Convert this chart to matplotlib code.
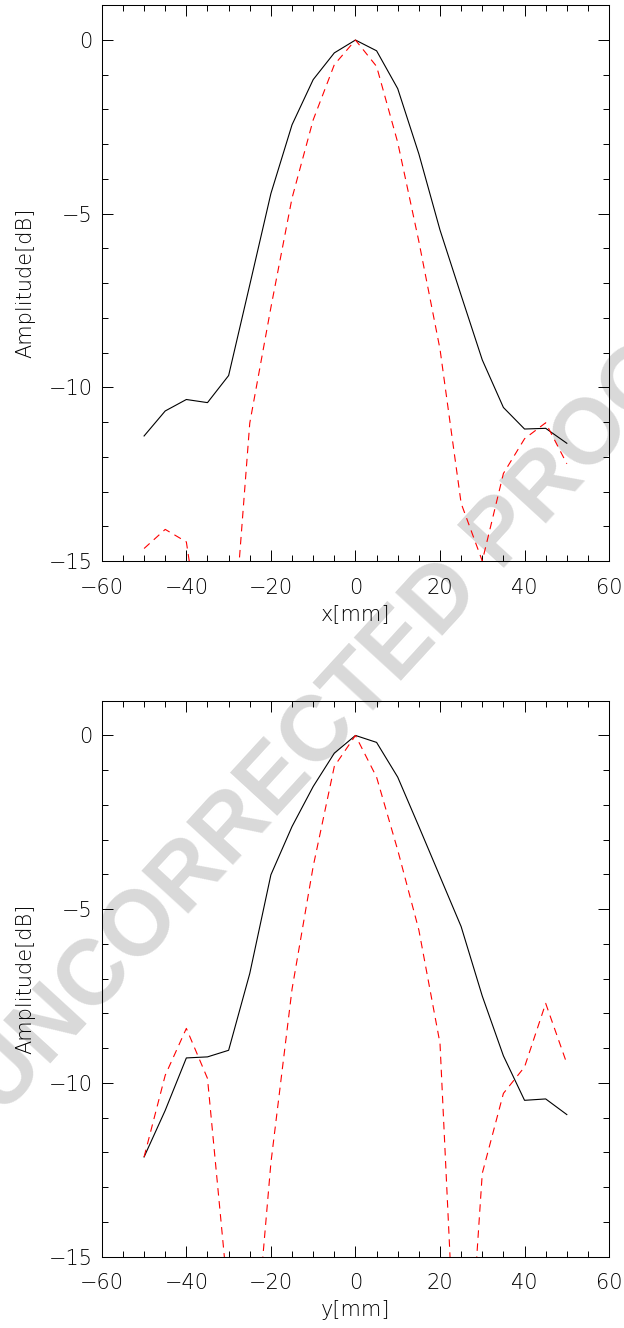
import matplotlib
matplotlib.use("Agg")
import matplotlib.pyplot as plt
from matplotlib.ticker import MultipleLocator

# ---------------- data ----------------
pos_mm = [-50, -45, -40, -35, -30, -25, -20, -15, -10, -5, 0,
          5, 10, 15, 20, 25, 30, 35, 40, 45, 50]

x_solid = [-11.40, -10.68, -10.35, -10.44, -9.66, -7.05, -4.42, -2.44, -1.14, -0.37, 0.0,
           -0.31, -1.40, -3.28, -5.47, -7.35, -9.21, -10.58, -11.20, -11.18, -11.61]
x_dashed = [-14.64, -14.09, -14.45, -18.5, -19.0, -11.03, -7.7, -4.55, -2.3, -0.71, 0.0,
            -0.76, -2.95, -5.8, -8.9, -13.34, -15.0, -12.48, -11.48, -11.02, -12.2]

y_solid = [-12.13, -10.79, -9.28, -9.25, -9.06, -6.85, -4.01, -2.62, -1.47, -0.51, 0.0,
           -0.20, -1.20, -2.62, -4.06, -5.5, -7.5, -9.22, -10.5, -10.46, -10.91]
y_dashed = [-12.13, -9.78, -8.43, -9.87, -16.3, -19.4, -12.3, -7.3, -3.77, -0.89, 0.0,
            -1.2, -3.3, -5.6, -8.86, -21.8, -12.6, -10.3, -9.54, -7.71, -9.44]

x_labels = ["x[mm]", "y[mm]"]
y_label = "Amplitude[dB]"
watermark = "UNCORRECTED PROOF"

# ---------------- figure ----------------
plt.rcParams["font.family"] = ["DejaVu Sans"]
plt.rcParams["font.weight"] = "ultralight"
plt.rcParams["lines.scale_dashes"] = False

W, H = 624, 1328
fig = plt.figure(figsize=(W / 100, H / 100), dpi=100)

fig.text(344 / W, 1 - 708 / H, watermark, fontsize=66, fontweight="bold",
         family="Liberation Sans", color="#d9d9d9", rotation=47.5,
         ha="center", va="center", zorder=-1)

left = 101.8 / W
width = (609.1 - 101.8) / W
axes_rects = [
    [left, (H - 561.0) / H, width, (561.0 - 5.3) / H],
    [left, (H - 1256.7) / H, width, (1256.7 - 700.7) / H],
]

series = [(x_solid, x_dashed), (y_solid, y_dashed)]

for rect, (solid, dashed), xl in zip(axes_rects, series, x_labels):
    ax = fig.add_axes(rect)
    ax.set_facecolor("none")
    ax.plot(pos_mm, solid, color="black", lw=0.8)
    ax.plot(pos_mm, dashed, color="red", lw=0.8, dashes=(5.4, 4.0))
    ax.set_xlim(-60, 60)
    ax.set_ylim(-15, 1.0)
    ax.xaxis.set_major_locator(MultipleLocator(20))
    ax.xaxis.set_minor_locator(MultipleLocator(5))
    ax.yaxis.set_major_locator(MultipleLocator(5))
    ax.yaxis.set_minor_locator(MultipleLocator(1))
    ax.tick_params(which="both", direction="in", top=True, right=True,
                   width=0.7, colors="black")
    ax.tick_params(which="major", length=8)
    ax.tick_params(which="minor", length=4)
    ax.tick_params(axis="x", which="major", pad=12, labelsize=15)
    ax.tick_params(axis="y", which="major", pad=6.5, labelsize=15)
    for lab in ax.get_xticklabels() + ax.get_yticklabels():
        lab.set_fontweight("ultralight")
    for sp in ax.spines.values():
        sp.set_linewidth(0.75)
    ax.set_xlabel(xl, fontsize=15, labelpad=4.5, fontweight="ultralight")
    ax.set_ylabel(y_label, fontsize=15, labelpad=10, fontweight="ultralight")

fig.savefig("out.png", dpi=100)
